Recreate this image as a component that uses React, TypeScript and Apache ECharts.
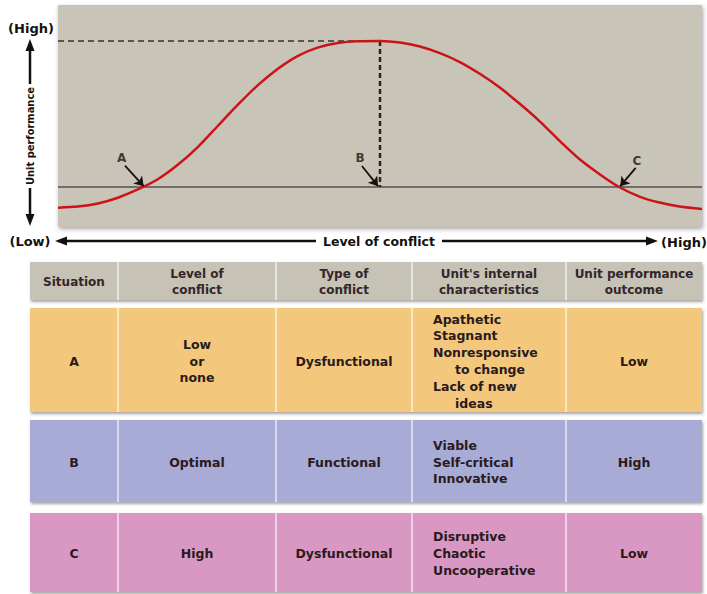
import React, { useEffect, useRef } from 'react';
import * as echarts from 'echarts';

// Curve: level of conflict (0-100) vs unit performance (0-100)
const curveX = [0, 3.1, 6.2, 9.3, 12.4, 15.5, 18.6, 21.7, 24.8, 27.9, 31.0, 34.1, 37.2, 40.3, 43.4, 46.5, 50, 53.1, 56.2, 59.3, 62.4, 65.5, 68.6, 71.7, 74.8, 77.9, 81.0, 84.1, 87.2, 90.3, 93.4, 96.5, 100];
const curveY = [8.7, 9.2, 10.6, 13.2, 16.9, 21.5, 28.0, 36.0, 45.5, 55.0, 63.8, 71.2, 77.0, 80.8, 82.9, 83.7, 83.8, 83.1, 81.3, 78.3, 74.3, 69.0, 62.8, 55.5, 47.6, 38.8, 30.5, 23.8, 17.9, 13.7, 11.0, 9.2, 8.1];
const baselineLevel = 18;
const peakX = 50;
const peakY = 83.8;

const situationNames = ['A', 'B', 'C'];
const situationX = [13.3, 49.7, 87.3];

// Table content
const tableHeaders = ['Situation', 'Level of\nconflict', 'Type of\nconflict', "Unit's internal\ncharacteristics", 'Unit performance\noutcome'];
const situations = ['A', 'B', 'C'];
const levels = ['Low\nor\nnone', 'Optimal', 'High'];
const conflictTypes = ['Dysfunctional', 'Functional', 'Dysfunctional'];
const characteristics = [
  ['Apathetic', 'Stagnant', 'Nonresponsive\nto change', 'Lack of new\nideas'],
  ['Viable', 'Self-critical', 'Innovative'],
  ['Disruptive', 'Chaotic', 'Uncooperative'],
];
const outcomes = ['Low', 'High', 'Low'];

// styles / layout
const FONT = '"DejaVu Sans", sans-serif';
const TXT = '#2a1a1c';
const colX = [30, 118, 276, 412, 566, 702];
const headerBox = [262, 300];
const rowBoxes = [[308, 412], [420, 502], [513, 592]];
const rowColors = ['#f4c87c', '#a8abd6', '#d898c3'];
const headerColor = '#c6c2b5';
const arrowDx = [-2.9, -2.5, 2.4];
const arrowDy = [9.6, 9.5, 8.6];
const labelDx = [-3.4, -2.8, 2.6];
const labelDy = [13.3, 13.2, 11.8];

function txt(text: string, x: number, y: number, opts: any = {}) {
  return {
    type: 'text',
    z: 10,
    style: {
      text,
      x,
      y,
      align: opts.align || 'center',
      verticalAlign: 'middle',
      fontSize: opts.fontSize || 12,
      fontWeight: 'bold',
      fontFamily: opts.fontFamily || FONT,
      fill: opts.fill || TXT,
      lineHeight: opts.lineHeight || 16,
    },
  };
}

function buildGraphics() {
  const g: any[] = [];
  const dark = '#111';
  // Y axis arrow
  g.push({ type: 'line', shape: { x1: 30, y1: 48, x2: 30, y2: 84 }, style: { stroke: dark, lineWidth: 2.5 } });
  g.push({ type: 'polygon', shape: { points: [[30, 39], [25.5, 51], [34.5, 51]] }, style: { fill: dark } });
  g.push({ type: 'line', shape: { x1: 30, y1: 188, x2: 30, y2: 217 }, style: { stroke: dark, lineWidth: 2.5 } });
  g.push({ type: 'polygon', shape: { points: [[30, 226], [25.5, 214], [34.5, 214]] }, style: { fill: dark } });
  g.push({
    type: 'text', z: 10, x: 30, y: 136, rotation: Math.PI / 2,
    style: { text: 'Unit performance', x: 0, y: 0, align: 'center', verticalAlign: 'middle', fontSize: 11, fontWeight: 'bold', fontFamily: '"DejaVu Sans Condensed", "DejaVu Sans", sans-serif', fill: dark },
  });
  g.push(txt('(High)', 31, 28, { fontSize: 13, fill: dark }));
  g.push(txt('(Low)', 30, 241, { fontSize: 13, fill: dark }));
  // X axis arrow
  g.push({ type: 'line', shape: { x1: 64, y1: 241, x2: 316, y2: 241 }, style: { stroke: dark, lineWidth: 2.5 } });
  g.push({ type: 'line', shape: { x1: 442, y1: 241, x2: 648, y2: 241 }, style: { stroke: dark, lineWidth: 2.5 } });
  g.push({ type: 'polygon', shape: { points: [[55, 241], [67, 236.5], [67, 245.5]] }, style: { fill: dark } });
  g.push({ type: 'polygon', shape: { points: [[658, 241], [646, 236.5], [646, 245.5]] }, style: { fill: dark } });
  g.push(txt('Level of conflict', 379, 241, { fontSize: 12.5, fill: dark }));
  g.push(txt('(High)', 684, 242, { fontSize: 13, fill: dark }));

  // Table header
  const shadow = { shadowBlur: 3, shadowColor: 'rgba(60,50,50,0.45)', shadowOffsetY: 2, shadowOffsetX: 1 };
  g.push({ type: 'rect', shape: { x: colX[0], y: headerBox[0], width: colX[5] - colX[0], height: headerBox[1] - headerBox[0] }, style: { fill: headerColor, ...shadow } });
  for (let c = 1; c < 5; c++) {
    g.push({ type: 'line', z: 5, shape: { x1: colX[c], y1: headerBox[0], x2: colX[c], y2: headerBox[1] }, style: { stroke: 'rgba(255,255,255,0.75)', lineWidth: 1.5 } });
  }
  const hy = (headerBox[0] + headerBox[1]) / 2;
  tableHeaders.forEach((h, c) => {
    g.push(txt(h, (colX[c] + colX[c + 1]) / 2, hy + 1, { fontSize: 12, lineHeight: 16, fill: '#33262a' }));
  });

  // Rows
  rowBoxes.forEach(([top, bot], r) => {
    g.push({ type: 'rect', shape: { x: colX[0], y: top, width: colX[5] - colX[0], height: bot - top }, style: { fill: rowColors[r], ...shadow } });
    for (let c = 1; c < 5; c++) {
      g.push({ type: 'line', z: 5, shape: { x1: colX[c], y1: top, x2: colX[c], y2: bot }, style: { stroke: 'rgba(255,255,255,0.75)', lineWidth: 1.5 } });
    }
    const cy = (top + bot) / 2 + 1;
    g.push(txt(situations[r], (colX[0] + colX[1]) / 2, cy, { fontSize: 12.5 }));
    g.push(txt(levels[r], (colX[1] + colX[2]) / 2, cy, { fontSize: 12.5, lineHeight: 16.5 }));
    g.push(txt(conflictTypes[r], (colX[2] + colX[3]) / 2, cy, { fontSize: 12.5 }));
    g.push(txt(outcomes[r], (colX[4] + colX[5]) / 2, cy, { fontSize: 12.5 }));
    // characteristics lines
    const lines: { t: string; indent: number }[] = [];
    characteristics[r].forEach((item) => {
      item.split('\n').forEach((t, k) => lines.push({ t, indent: k === 0 ? 0 : 22 }));
    });
    const lh = 16.8;
    const y0 = cy - ((lines.length - 1) * lh) / 2;
    lines.forEach((ln, k) => {
      g.push(txt(ln.t, 433 + ln.indent, y0 + k * lh, { fontSize: 12.5, align: 'left' }));
    });
  });
  return g;
}

export default function App() {
  const ref = useRef<HTMLDivElement>(null);
  useEffect(() => {
    const chart = echarts.init(ref.current!, null, { renderer: 'svg' });
    const curve = curveX.map((x, i) => [x, curveY[i]]);
    const option: any = {
      animation: false,
      backgroundColor: '#ffffff',
      grid: {
        left: 58, top: 5, width: 644, height: 222, show: true,
        backgroundColor: '#c8c4b7', borderWidth: 0,
        shadowBlur: 4, shadowColor: 'rgba(80,70,80,0.5)', shadowOffsetY: 2, shadowOffsetX: 1,
      },
      xAxis: { type: 'value', min: 0, max: 100, show: false },
      yAxis: { type: 'value', min: 0, max: 100, show: false },
      series: [
        {
          type: 'line', data: [[0, baselineLevel], [100, baselineLevel]], symbol: 'none',
          lineStyle: { color: '#5a4e4e', width: 1.5 }, z: 2,
          markLine: {
            silent: true, symbol: ['none', 'arrow'], symbolSize: 9,
            lineStyle: { color: '#161010', width: 1.8, type: 'solid' },
            label: { show: false },
            data: situationX.map((x, i) => [
              { coord: [x + arrowDx[i], baselineLevel + arrowDy[i]] },
              { coord: [x, baselineLevel + 0.4] },
            ]),
          },
        },
        {
          type: 'line', data: [[0, peakY], [peakX, peakY]], symbol: 'none',
          lineStyle: { color: '#3a2e2e', width: 1.5, type: [6, 4] }, z: 2,
        },
        {
          type: 'line', data: [[peakX, peakY], [peakX, baselineLevel]], symbol: 'none',
          lineStyle: { color: '#2e2424', width: 2.5, type: [5, 3] }, z: 2,
        },
        {
          type: 'line', data: curve, smooth: 0.3, symbol: 'none',
          lineStyle: { color: '#cc1418', width: 2.5 }, z: 3,
        },
        {
          type: 'scatter', symbol: 'circle', symbolSize: 2, z: 6,
          itemStyle: { color: 'rgba(0,0,0,0)' },
          data: situationNames.map((n, i) => ({ name: n, value: [situationX[i] + labelDx[i], baselineLevel + labelDy[i]] })),
          label: { show: true, position: 'inside', formatter: '{b}', fontSize: 12, fontWeight: 'bold', fontFamily: FONT, color: '#1a1212' },
        },
      ],
      graphic: buildGraphics(),
    };
    chart.setOption(option);
    return () => chart.dispose();
  }, []);
  return <div ref={ref} style={{ position: 'absolute', left: 0, top: 0, width: 707, height: 594 }} />;
}
